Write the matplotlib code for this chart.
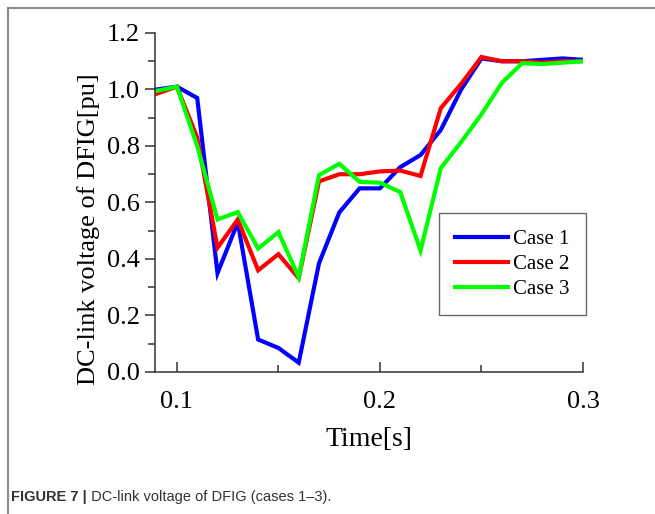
import matplotlib
matplotlib.use('Agg')
import matplotlib.pyplot as plt
from matplotlib.lines import Line2D
from matplotlib.ticker import MultipleLocator

# Sample times [s]
time = [0.09, 0.10, 0.11, 0.12, 0.13, 0.14, 0.15, 0.16, 0.17, 0.18, 0.19,
        0.20, 0.21, 0.22, 0.23, 0.24, 0.25, 0.26, 0.27, 0.28, 0.29, 0.30]

# DC-link voltage [pu] for the three cases
case1 = [1.00, 1.01, 0.97, 0.35, 0.53, 0.115, 0.085, 0.033, 0.385, 0.565, 0.65,
         0.65, 0.725, 0.768, 0.857, 1.00, 1.11, 1.10, 1.10, 1.105, 1.11, 1.105]
case2 = [0.985, 1.01, 0.83, 0.44, 0.54, 0.36, 0.417, 0.332, 0.675, 0.70, 0.70,
         0.71, 0.713, 0.694, 0.934, 1.02, 1.115, 1.10, 1.10, 1.095, 1.10, 1.10]
case3 = [0.995, 1.01, 0.80, 0.54, 0.566, 0.437, 0.495, 0.336, 0.697, 0.737, 0.673,
         0.67, 0.637, 0.43, 0.722, 0.814, 0.912, 1.023, 1.093, 1.09, 1.095, 1.10]

labels = ['Case 1', 'Case 2', 'Case 3']
colors = ['#0000ff', '#ff0000', '#00ff00']

serif = ['Liberation Serif', 'DejaVu Serif']

fig = plt.figure(figsize=(6.55, 5.14), dpi=100)
ax = fig.add_axes([0.2366, 0.2763, 0.6534, 0.6595])

for y, lab, c in zip([case1, case2, case3], labels, colors):
    ax.plot(time, y, color=c, lw=3.0, label=lab, solid_joinstyle='miter')

ax.set_xlim(0.0892, 0.30)
ax.set_ylim(0.0, 1.2)
ax.xaxis.set_minor_locator(MultipleLocator(0.05))
ax.yaxis.set_minor_locator(MultipleLocator(0.1))
ax.set_xticks([0.1, 0.2, 0.3])
ax.set_xticklabels(['0.1', '0.2', '0.3'])
ax.set_yticks([0.0, 0.2, 0.4, 0.6, 0.8, 1.0, 1.2])
ax.set_yticklabels(['0.0', '0.2', '0.4', '0.6', '0.8', '1.0', '1.2'])

for s in ['top', 'right']:
    ax.spines[s].set_visible(False)
for s in ['left', 'bottom']:
    ax.spines[s].set_color('#333333')
    ax.spines[s].set_linewidth(1.1)

ax.tick_params(axis='x', which='both', direction='in', colors='#333333',
               labelcolor='black', width=1.1, pad=14)
ax.tick_params(axis='x', which='major', length=7)
ax.tick_params(axis='x', which='minor', length=5)
ax.tick_params(axis='y', which='both', direction='out', colors='#333333',
               labelcolor='black', width=1.1, pad=4)
ax.tick_params(axis='y', which='major', length=7)
ax.tick_params(axis='y', which='minor', length=5)
for t in ax.get_xticklabels() + ax.get_yticklabels():
    t.set_family(serif)
    t.set_fontsize(19)

ax.set_xlabel('Time[s]', family=serif, fontsize=20, labelpad=10)
ax.set_ylabel('DC-link voltage of DFIG[pu]', family=serif, fontsize=19)
ax.yaxis.set_label_coords(-0.128, 0.42)

leg = ax.legend(loc='upper right', bbox_to_anchor=(1.007, 0.469), borderaxespad=0,
                prop={'family': serif, 'size': 15}, handlelength=2.5,
                handletextpad=0.25, labelspacing=0.25, borderpad=0.8,
                fancybox=False, frameon=True)
leg.get_frame().set_edgecolor('#444444')
leg.get_frame().set_linewidth(1.0)

# page frame around the figure panel
fig.add_artist(Line2D([8 / 655, 1.0], [1 - 8 / 514, 1 - 8 / 514],
                      transform=fig.transFigure, color='#8a8a8a', lw=1.5))
fig.add_artist(Line2D([8 / 655, 8 / 655], [0.0, 1 - 8 / 514],
                      transform=fig.transFigure, color='#8a8a8a', lw=1.5))

# caption: bold figure number followed by regular text
sans = ['Liberation Sans', 'DejaVu Sans']
cap_y = 1 - 501 / 514
cap = fig.text(11 / 655, cap_y, 'FIGURE 7 |', family=sans, fontsize=10.5,
               fontweight='bold', color='#333333', va='baseline', ha='left')
rest = fig.text(0, cap_y, ' DC-link voltage of DFIG (cases 1\u20133).', family=sans,
                fontsize=10.5, color='#333333', va='baseline', ha='left')
fig.canvas.draw()
bb = cap.get_window_extent()
rest.set_x(bb.x1 / fig.bbox.width)

fig.savefig('out.png', dpi=100)
